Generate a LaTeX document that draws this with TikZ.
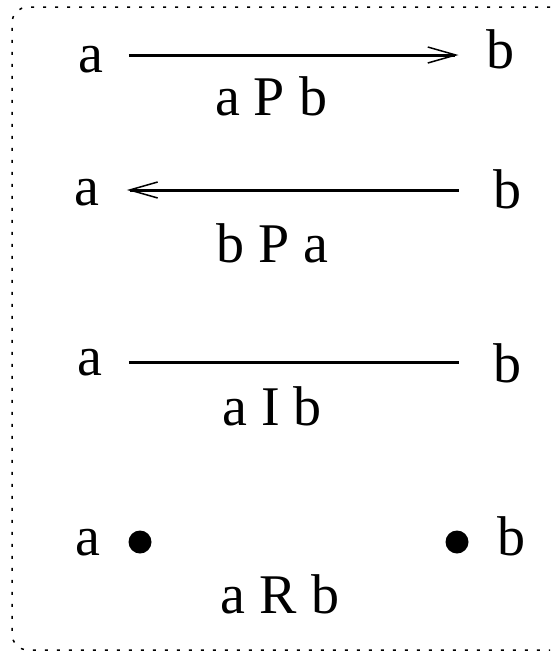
\documentclass[tikz,border=0pt]{standalone}
\usepackage{fontspec}
\setmainfont{Liberation Serif}
\usetikzlibrary{arrows.meta}

\begin{document}
\begin{tikzpicture}[x=1pt,y=-1pt,line width=3pt,
    lbl/.style={anchor=base,inner sep=0pt,font=\fontsize{56}{60}\selectfont},
    pref/.style={-{Straight Barb[length=28pt,width=16pt,line width=1.5pt]}},
    blob/.style={circle,fill,inner sep=0pt,minimum size=23pt}]
    \useasboundingbox (0,0) rectangle (550,656);
    \draw[line width=1.5pt,dash pattern=on 3pt off 9pt,rounded corners=16pt]
        (550,7) -- (12,7) -- (12,650) -- (550,650);

    % a P b
    \node[lbl] (a1) at (91,72) {a};
    \node[lbl] (b1) at (500,68) {b};
    \node[lbl] (l1) at (271,115) {a P b};
    \draw[pref,shorten <=24pt,shorten >=26pt] (a1.east |- 0,55) -- (b1.west |- 0,55);

    % b P a
    \node[lbl] (a2) at (87,205) {a};
    \node[lbl] (b2) at (507,208) {b};
    \node[lbl] (l2) at (272,262) {b P a};
    \draw[pref,shorten <=33pt,shorten >=26pt] (b2.west |- 0,190) -- (a2.east |- 0,190);

    % a I b
    \node[lbl] (a3) at (90,375) {a};
    \node[lbl] (b3) at (507,382) {b};
    \node[lbl] (l3) at (272,425) {a I b};
    \draw[shorten <=25pt,shorten >=33pt] (a3.east |- 0,362) -- (b3.west |- 0,362);

    % a R b
    \node[lbl] (a4) at (88,555) {a};
    \node[blob] (d1) at (140,542) {};
    \node[blob] (d2) at (457,542) {};
    \node[lbl] (b4) at (511,555) {b};
    \node[lbl] (l4) at (280,613) {a R b};
\end{tikzpicture}
\end{document}
